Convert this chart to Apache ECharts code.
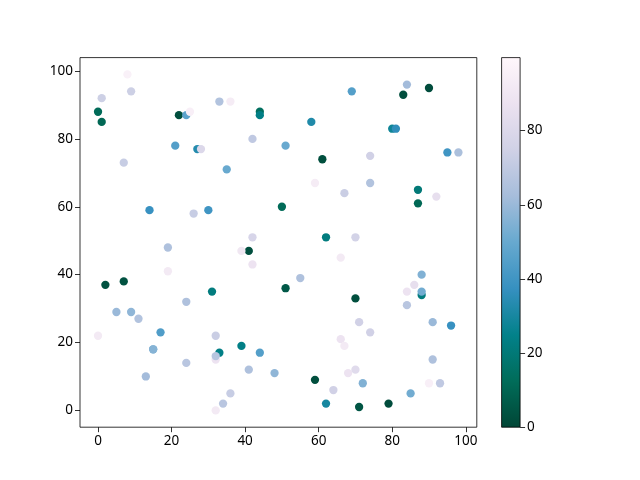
<!DOCTYPE html>
<html>
<head>
<meta charset="utf-8">
<script src="https://cdn.jsdelivr.net/npm/echarts@6/dist/echarts.min.js"></script>
<style>
  html, body { margin: 0; padding: 0; background: #fff; }
  #root { width: 640px; height: 480px; }
</style>
</head>
<body>
<div id="root"></div>
<script>
// Scatter points: x, y and colour value
const xs = [8, 1, 9, 0, 1, 22, 24, 25, 33, 36, 44, 44, 21, 27, 28, 42, 7, 35, 14, 26,
  30, 42, 19, 84, 90, 83, 69, 58, 80, 81, 51, 61, 74, 95, 98, 59, 74, 67, 87, 87,
  92, 50, 62, 70, 41, 39, 42, 19, 2, 7, 31, 24, 5, 9, 11, 0, 17, 32, 15, 15,
  39, 33, 32, 32, 44, 24, 13, 41, 48, 36, 34, 32, 66, 55, 51, 70, 88, 86, 84, 88,
  88, 84, 91, 96, 71, 74, 66, 67, 91, 68, 70, 59, 72, 64, 90, 93, 85, 62, 71, 79];
const ys = [99, 92, 94, 88, 85, 87, 87, 88, 91, 91, 88, 87, 78, 77, 77, 80, 73, 71, 59, 58,
  59, 51, 48, 96, 95, 93, 94, 85, 83, 83, 78, 74, 75, 76, 76, 67, 67, 64, 65, 61,
  63, 60, 51, 51, 47, 47, 43, 41, 37, 38, 35, 32, 29, 29, 27, 22, 23, 22, 18, 18,
  19, 17, 15, 16, 17, 14, 10, 12, 11, 5, 2, 0, 45, 39, 36, 33, 40, 37, 35, 34,
  35, 31, 26, 25, 26, 23, 21, 19, 15, 11, 12, 9, 8, 6, 8, 8, 5, 2, 1, 2];
const cs = [96, 74, 74, 12, 11, 3, 47, 95, 66, 93, 14, 24, 45, 33, 80, 70, 72, 50, 38, 72,
  40, 78, 65, 62, 2, 3, 45, 32, 28, 36, 50, 3, 75, 40, 64, 93, 66, 73, 20, 11,
  85, 12, 22, 76, 3, 90, 88, 92, 4, 4, 22, 65, 60, 58, 66, 92, 44, 73, 52, 56,
  24, 24, 88, 67, 45, 68, 62, 65, 58, 72, 68, 92, 92, 65, 6, 3, 55, 85, 88, 22,
  52, 68, 60, 38, 75, 75, 88, 92, 65, 88, 82, 3, 55, 75, 95, 70, 52, 30, 5, 2];

const xTicks = [0, 20, 40, 60, 80, 100];
const yTicks = [0, 20, 40, 60, 80, 100];
const cTicks = [0, 20, 40, 60, 80];

// PuBuGn reversed
const cmap = ['#014636', '#016c59', '#02818a', '#3690c0', '#67a9cf', '#a6bddb', '#d0d1e6', '#ece2f0', '#fff7fb'];
const cMin = 0, cMax = 99.7;

const points = xs.map((x, i) => [x, ys[i], cs[i]]);

const font = { fontFamily: 'Noto Sans', fontSize: 13.5, color: '#000' };
const tickStyle = { show: true, inside: false, length: 5, lineStyle: { color: '#000', width: 0.8 } };

// builds one axis with ticks only at the given values
function axis(type, grid, min, max, ticks, extra) {
  return Object.assign({
    type: 'value', gridIndex: grid, min: min, max: max,
    axisLine: { show: false, onZero: false },
    splitLine: { show: false },
    axisTick: Object.assign({ customValues: ticks }, tickStyle),
    axisLabel: Object.assign({ customValues: ticks, margin: 7 }, font)
  }, extra || {});
}

const main = { left: 80, top: 57.6, width: 396.8, height: 369.6 };
const cbar = { left: 501.6, top: 57.6, width: 18.5, height: 369.6 };

const chart = echarts.init(document.getElementById('root'), null, { renderer: 'canvas' });
chart.setOption({
  backgroundColor: '#fff',
  animation: false,
  grid: [
    Object.assign({ show: true, borderColor: '#000', borderWidth: 0.8, backgroundColor: 'transparent' }, main),
    Object.assign({ show: false }, cbar)
  ],
  xAxis: [
    axis('value', 0, -4.9, 103, xTicks, { position: 'bottom' }),
    { type: 'value', gridIndex: 1, min: 0, max: 1, show: false }
  ],
  yAxis: [
    axis('value', 0, -4.95, 103.95, yTicks, { position: 'left' }),
    axis('value', 1, cMin, cMax, cTicks, { position: 'right' })
  ],
  visualMap: {
    show: false, type: 'continuous', seriesIndex: 0, dimension: 2,
    min: cMin, max: cMax, inRange: { color: cmap }
  },
  graphic: [{
    type: 'rect', z: 10,
    shape: { x: cbar.left, y: cbar.top, width: cbar.width, height: cbar.height },
    style: {
      fill: new echarts.graphic.LinearGradient(0, 1, 0, 0,
        cmap.map((c, i) => ({ offset: i / (cmap.length - 1), color: c }))),
      stroke: '#000', lineWidth: 0.8
    }
  }],
  series: [{
    type: 'scatter', xAxisIndex: 0, yAxisIndex: 0,
    symbolSize: 8.3, data: points,
    itemStyle: { opacity: 1 }
  }]
});
</script>
</body>
</html>
